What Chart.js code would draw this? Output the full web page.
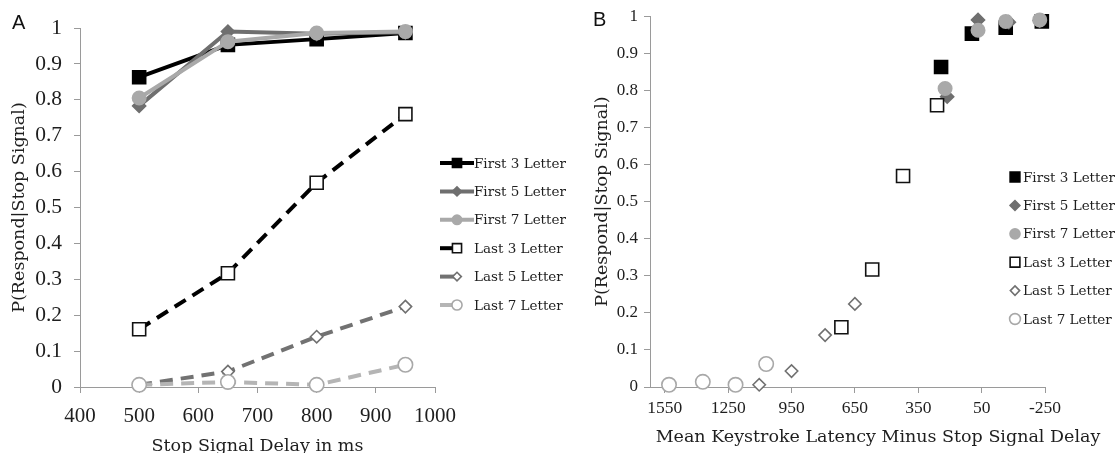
<!DOCTYPE html>
<html>
<head>
<meta charset="utf-8">
<script src="https://cdn.jsdelivr.net/npm/chart.js@4.4.1/dist/chart.umd.min.js"></script>
<style>
  html, body { margin: 0; padding: 0; background: #fff; overflow: hidden; width: 1115px; height: 453px; }
  canvas { position: absolute; top: 0; }
  #chartA { left: 0; }
  #chartB { left: 580px; }
  .panel { position: absolute; font-family: "Liberation Sans", sans-serif; font-size: 20px; line-height: 20px; color: #111; }
</style>
</head>
<body>
<canvas id="chartA" width="580" height="470"></canvas>
<canvas id="chartB" width="535" height="470"></canvas>
<div class="panel" style="left:12px; top:12px;">A</div>
<div class="panel" style="left:593px; top:9px;">B</div>
<script>
const seriesNames = ["First 3 Letter", "First 5 Letter", "First 7 Letter", "Last 3 Letter", "Last 5 Letter", "Last 7 Letter"];

// panel A: stop signal delay (ms)
const delaysA = [500, 650, 800, 950];

// P(respond | stop signal), shared by both panels
const first3 = [0.863, 0.953, 0.969, 0.986];
const first5 = [0.783, 0.99, 0.984, 0.988];
const first7 = [0.805, 0.962, 0.986, 0.99];
const last3 = [0.161, 0.317, 0.569, 0.76];
const last5 = [0.006, 0.043, 0.14, 0.224];
const last7 = [0.006, 0.014, 0.006, 0.062];

// panel B: mean keystroke latency minus stop signal delay
const first3B = [242, 96, -64, -235];
const first5B = [213, 67, -79, -225];
const first7B = [223, 67, -64, -225];
const last3B = [714, 568, 422, 261];
const last5B = [1103, 950, 791, 650];
const last7B = [1530, 1370, 1215, 1070];

const xTicksA = [400, 500, 600, 700, 800, 900, 1000];
const xTicksB = [1550, 1250, 950, 650, 350, 50, -250];
const yTicks = [0, 0.1, 0.2, 0.3, 0.4, 0.5, 0.6, 0.7, 0.8, 0.9, 1];

const yTitle = "P(Respond|Stop Signal)";
const xTitleA = "Stop Signal Delay in ms";
const xTitleB = "Mean Keystroke Latency Minus Stop Signal Delay";

const yValues = [first3, first5, first7, last3, last5, last7];
const xValuesB = [first3B, first5B, first7B, last3B, last5B, last7B];

const looks = [
  { line: "#000000", fill: "#000000", edge: "#000000", style: "rect", r: 9.2, dash: [] },
  { line: "#6f6f6f", fill: "#6f6f6f", edge: "#6f6f6f", style: "rectRot", r: 6.5, dash: [] },
  { line: "#a9a9a9", fill: "#a9a9a9", edge: "#a9a9a9", style: "circle", r: 6.7, dash: [] },
  { line: "#000000", fill: "#ffffff", edge: "#111111", style: "rect", r: 9.2, dash: [13, 8] },
  { line: "#727272", fill: "#ffffff", edge: "#707070", style: "rectRot", r: 6.2, dash: [13, 8] },
  { line: "#b5b5b5", fill: "#ffffff", edge: "#a8a8a8", style: "circle", r: 7.2, dash: [13, 8] },
];

const numFont = "'Liberation Serif', 'Times New Roman', serif";
const wordFont = "'DejaVu Serif', serif";
const ink = "#1e1e1e";
const axisGrey = "#9a9a9a";

function drawMarker(ctx, look, x, y, r) {
  ctx.setLineDash([]);
  ctx.fillStyle = look.fill;
  ctx.strokeStyle = look.edge;
  ctx.lineWidth = 1.6;
  if (Chart.helpers && Chart.helpers.drawPoint) {
    Chart.helpers.drawPoint(ctx, { pointStyle: look.style, radius: r, rotation: 0, borderWidth: 1.6 }, x, y);
  } else {
    ctx.beginPath();
    ctx.arc(x, y, r, 0, Math.PI * 2);
    ctx.fill();
    ctx.stroke();
  }
}

// legend drawn at a fixed spot beside the plot
const sideLegend = {
  id: "sideLegend",
  afterDraw(chart, args, opts) {
    const ctx = chart.ctx;
    ctx.save();
    seriesNames.forEach((name, i) => {
      const look = looks[i];
      const y = opts.top + i * opts.gap;
      if (opts.withLines) {
        ctx.save();
        ctx.strokeStyle = look.line;
        ctx.lineWidth = 4;
        ctx.setLineDash([]);
        ctx.beginPath();
        ctx.moveTo(opts.markerX - 17, y);
        ctx.lineTo(look.dash.length ? opts.markerX : opts.markerX + 17, y);
        ctx.stroke();
        ctx.restore();
      }
      drawMarker(ctx, look, opts.markerX, y, look.r * opts.markerScale);
      ctx.font = opts.fontSize + "px " + wordFont;
      ctx.textBaseline = "middle";
      ctx.textAlign = "left";
      ctx.fillStyle = ink;
      ctx.fillText(name, opts.textX, y + 1);
    });
    if (opts.xTitle) {
      ctx.font = opts.xTitle.size + "px " + wordFont;
      ctx.textAlign = "center";
      ctx.textBaseline = "middle";
      ctx.fillStyle = ink;
      ctx.fillText(opts.xTitle.text, opts.xTitle.x, opts.xTitle.y);
    }
    ctx.restore();
  },
};

function makeDatasets(xLists, withLines) {
  return seriesNames.map((name, i) => {
    const look = looks[i];
    return {
      label: name,
      data: yValues[i].map((v, j) => ({ x: xLists[i][j], y: v })),
      showLine: withLines,
      borderColor: look.line,
      borderWidth: 4,
      borderDash: look.dash,
      backgroundColor: look.fill,
      pointStyle: look.style,
      pointRadius: look.r,
      pointBackgroundColor: look.fill,
      pointBorderColor: look.edge,
      pointBorderWidth: 1.6,
      tension: 0,
      clip: false,
      order: seriesNames.length - i,
    };
  });
}

function axisOptions(o) {
  return {
    type: "linear",
    min: o.min,
    max: o.max,
    reverse: !!o.reverse,
    afterBuildTicks: (s) => { s.ticks = o.ticks.map((v) => ({ value: v })); },
    afterFit: o.afterFit,
    ticks: {
      color: ink,
      font: { family: numFont, size: o.tickSize },
      padding: o.tickPad,
      maxRotation: 0,
      autoSkip: false,
      callback: (v) => String(v),
    },
    grid: { drawOnChartArea: false, drawTicks: true, tickLength: 6, color: axisGrey, lineWidth: 1 },
    border: { display: true, color: axisGrey, width: 1 },
    title: {
      display: !!o.title,
      text: o.title,
      color: ink,
      font: { family: wordFont, size: o.titleSize },
      padding: o.titlePad,
    },
  };
}

const aDelays = seriesNames.map(() => delaysA);

new Chart(document.getElementById("chartA"), {
  type: "line",
  data: { datasets: makeDatasets(aDelays, true) },
  options: {
    responsive: false,
    animation: false,
    devicePixelRatio: 1,
    layout: { padding: { left: 0, top: 28, right: 145, bottom: 0 } },
    plugins: {
      legend: { display: false },
      tooltip: { enabled: false },
      sideLegend: { top: 163, gap: 28.4, markerX: 457, textX: 474, fontSize: 13.5, markerScale: 0.7, withLines: true },
    },
    scales: {
      x: axisOptions({ min: 400, max: 1000, ticks: xTicksA, tickSize: 21, tickPad: 11, title: xTitleA, titleSize: 17.5, titlePad: { top: 0, bottom: 13 }, afterFit: (s) => { s.height = 83; } }),
      y: axisOptions({ min: 0, max: 1, ticks: yTicks, tickSize: 21.5, tickPad: 12, title: yTitle, titleSize: 17.5, titlePad: { top: 9, bottom: 0 }, afterFit: (s) => { s.width = 80; } }),
    },
  },
  plugins: [sideLegend],
});

new Chart(document.getElementById("chartB"), {
  type: "scatter",
  data: { datasets: makeDatasets(xValuesB, false) },
  options: {
    responsive: false,
    animation: false,
    devicePixelRatio: 1,
    layout: { padding: { left: 0, top: 16, right: 70, bottom: 0 } },
    plugins: {
      legend: { display: false },
      tooltip: { enabled: false },
      sideLegend: {
        top: 177, gap: 28.4, markerX: 435, textX: 443, fontSize: 13.5, markerScale: 0.75, withLines: false,
        xTitle: { text: xTitleB, size: 17.5, x: 298, y: 437 },
      },
    },
    scales: {
      x: axisOptions({ min: -250, max: 1620, reverse: true, ticks: xTicksB, tickSize: 17.5, tickPad: 5, title: "", afterFit: (s) => { s.height = 83; } }),
      y: axisOptions({ min: 0, max: 1, ticks: yTicks, tickSize: 17, tickPad: 6, title: yTitle, titleSize: 17.5, titlePad: { top: 12, bottom: 0 }, afterFit: (s) => { s.width = 70; } }),
    },
  },
  plugins: [sideLegend],
});
</script>
</body>
</html>
